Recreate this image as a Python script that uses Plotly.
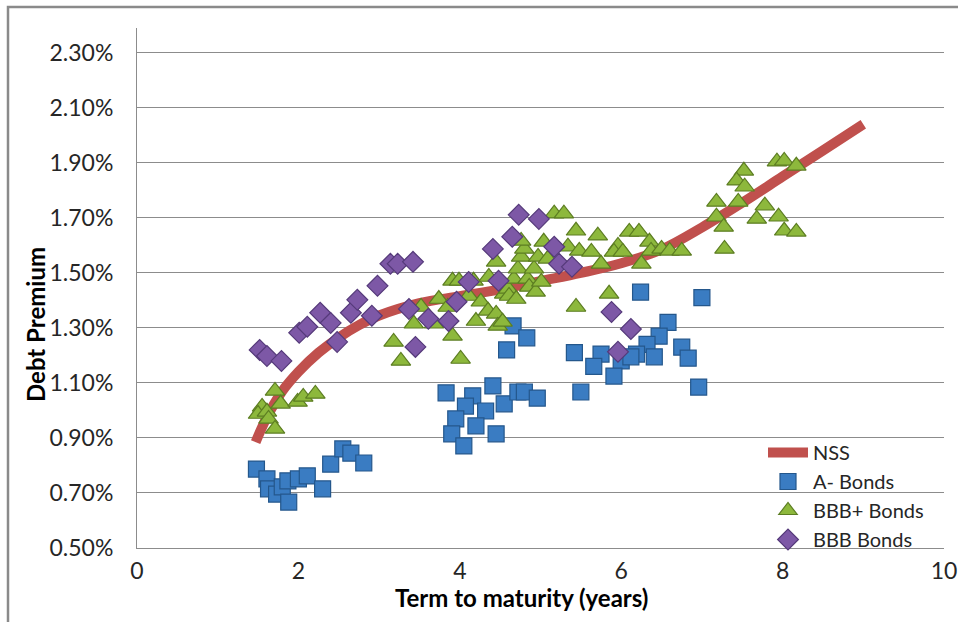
import plotly.graph_objects as go

# ---- data (values in percent) ----
nss_x = [1.47, 1.6, 1.8, 2.0, 2.25, 2.5, 2.75, 3.0, 3.5, 4.0, 4.5, 5.0, 5.5, 6.0, 6.5, 7.0, 7.5, 8.0, 8.5, 9.0]
nss_y = [0.885, 0.97, 1.07, 1.14, 1.21, 1.265, 1.31, 1.345, 1.39, 1.415, 1.44, 1.47, 1.50, 1.535, 1.585, 1.665, 1.755, 1.85, 1.945, 2.04]

a_x = [1.48, 1.61, 1.63, 1.73, 1.80, 1.87, 1.88, 2.00, 2.11, 2.30, 2.40, 2.55, 2.65, 2.81,
       4.66, 4.83, 4.58, 3.83, 4.16, 4.41, 4.07, 4.32, 3.95, 4.55, 4.72, 4.80, 4.96, 3.90, 4.20, 4.45, 4.05,
       6.24, 7.00, 6.58, 6.47, 6.32, 6.75, 6.83, 5.42, 5.75, 5.66, 6.00, 5.91, 6.19, 6.12, 6.41, 5.50, 6.96]
a_y = [0.787, 0.751, 0.715, 0.696, 0.722, 0.744, 0.667, 0.751, 0.762, 0.715, 0.805, 0.860, 0.845, 0.809,
       1.307, 1.264, 1.220, 1.064, 1.053, 1.089, 1.016, 0.998, 0.969, 1.024, 1.067, 1.067, 1.045, 0.915, 0.944, 0.915, 0.871,
       1.430, 1.410, 1.320, 1.270, 1.240, 1.230, 1.190, 1.210, 1.205, 1.160, 1.180, 1.125, 1.205, 1.195, 1.195, 1.067, 1.085]

bp_x = [1.55, 1.50, 1.61, 1.71, 1.78, 1.63, 1.71, 1.99, 2.06, 2.21,
        3.18, 3.27, 3.43, 3.52, 3.68, 3.74, 3.85, 3.91, 4.01, 3.91, 3.99, 4.17, 4.11, 4.20, 4.26, 4.35,
        4.36, 4.45, 4.45, 4.47, 4.53, 4.55, 4.60, 4.61, 4.70, 4.67, 4.72, 4.76, 4.80, 4.76, 4.84, 4.86,
        4.92, 4.94, 4.97, 5.04, 5.01, 5.09, 5.17, 5.29, 5.34, 5.44, 5.44,
        5.71, 5.48, 5.63, 5.75, 5.96, 5.91, 6.02, 6.10, 6.22, 6.35, 6.37, 6.50, 6.60, 6.75, 6.25, 5.85,
        7.18, 7.18, 7.27, 7.45, 7.68, 7.28,
        7.52, 7.43, 7.53, 7.78, 7.95, 8.02, 8.17, 7.93, 8.02, 8.17]
bp_y = [1.013, 0.987, 0.995, 1.071, 1.024, 0.969, 0.933, 1.031, 1.049, 1.060,
        1.249, 1.180, 1.315, 1.376, 1.315, 1.405, 1.376, 1.271, 1.187, 1.471, 1.471, 1.471, 1.416, 1.325, 1.395, 1.362,
        1.485, 1.540, 1.351, 1.307, 1.322, 1.424, 1.442, 1.416, 1.405, 1.478, 1.515, 1.558, 1.587, 1.616, 1.478, 1.449,
        1.515, 1.431, 1.558, 1.613, 1.467, 1.551, 1.715, 1.715, 1.595, 1.653, 1.376,
        1.635, 1.580, 1.576, 1.533, 1.598, 1.576, 1.576, 1.649, 1.649, 1.613, 1.580, 1.587, 1.580, 1.580, 1.533, 1.424,
        1.758, 1.704, 1.667, 1.758, 1.696, 1.587,
        1.871, 1.835, 1.813, 1.744, 1.704, 1.653, 1.649, 1.904, 1.907, 1.889]

bbb_x = [1.52, 1.61, 1.79, 2.01, 2.11, 2.27, 2.40, 2.48, 2.65, 2.73, 2.98, 2.91, 3.14, 3.23, 3.42, 3.37,
         3.45, 3.61, 3.86, 3.96, 4.11, 4.48, 4.41, 4.65, 4.73, 4.98, 5.17, 5.23, 5.39, 5.88, 6.12, 5.96]
bbb_y = [1.220, 1.198, 1.180, 1.282, 1.304, 1.355, 1.318, 1.249, 1.355, 1.402, 1.453, 1.344, 1.533, 1.533, 1.540, 1.369,
         1.231, 1.333, 1.325, 1.395, 1.467, 1.471, 1.587, 1.631, 1.711, 1.696, 1.595, 1.533, 1.522, 1.358, 1.296, 1.213]

y_ticks = [0.50, 0.70, 0.90, 1.10, 1.30, 1.50, 1.70, 1.90, 2.10, 2.30]
y_tick_text = ["0.50%", "0.70%", "0.90%", "1.10%", "1.30%", "1.50%", "1.70%", "1.90%", "2.10%", "2.30%"]
x_ticks = [0, 2, 4, 6, 8, 10]

FONT = "Lato"
GRID = "#8c8c8c"

W, H = 958, 622
ML, MR, MT, MB = 137, 14, 28, 74
PW = W - ML - MR
PH = H - MT - MB


def px_x(px):
    return (px - ML) / PW


def px_y(py):
    return (H - MB - py) / PH


fig = go.Figure()
fig.add_trace(go.Scatter(x=nss_x, y=nss_y, mode="lines", name="NSS",
                         line=dict(color="#c0504d", width=10, shape="spline")))
fig.add_trace(go.Scatter(x=a_x, y=a_y, mode="markers", name="A- Bonds",
                         marker=dict(symbol="square", size=16, color="#3a7cc2",
                                     line=dict(color="#24578c", width=1.2))))
fig.add_trace(go.Scatter(x=bp_x, y=bp_y, mode="markers", name="BBB+ Bonds",
                         marker=dict(symbol="triangle-up", size=17, color="#8db83c",
                                     line=dict(color="#5c7d22", width=1.2))))
fig.add_trace(go.Scatter(x=bbb_x, y=bbb_y, mode="markers", name="BBB Bonds",
                         marker=dict(symbol="diamond", size=16, color="#7d58a6",
                                     line=dict(color="#553a7a", width=1.2))))

fig.update_layout(
    width=W, height=H,
    margin=dict(l=ML, r=MR, t=MT, b=MB, autoexpand=False),
    paper_bgcolor="white", plot_bgcolor="white",
    font=dict(family=FONT, size=23, color="#262626"),
    showlegend=True,
    legend=dict(x=px_x(763), y=px_y(433), xanchor="left", yanchor="top",
                bgcolor="rgba(255,255,255,0)", font=dict(size=20, color="#262626"),
                tracegroupgap=0, itemwidth=40),
    xaxis=dict(range=[0, 10], tickvals=x_ticks, showgrid=False, zeroline=False,
               showline=True, linecolor=GRID, linewidth=1, ticks="outside", automargin=False,
               ticklen=2, tickcolor="rgba(0,0,0,0)", tickfont=dict(size=23)),
    yaxis=dict(range=[0.5, 2.39], tickvals=y_ticks, ticktext=y_tick_text,
               showgrid=True, gridcolor=GRID, gridwidth=1, zeroline=False, automargin=False,
               showline=True, linecolor=GRID, linewidth=1, ticks="outside",
               ticklen=18, tickcolor="rgba(0,0,0,0)", tickfont=dict(size=23)),
    annotations=[
        dict(text="<b>Term to maturity (years)</b>", xref="paper", yref="paper",
             x=px_x(521), y=px_y(597), xanchor="center", yanchor="middle",
             showarrow=False, font=dict(size=24, color="#000000")),
        dict(text="<b>Debt Premium</b>", xref="paper", yref="paper",
             x=px_x(35), y=px_y(325), xanchor="center", yanchor="middle",
             textangle=-90, showarrow=False, font=dict(size=24, color="#000000")),
    ],
    shapes=[dict(type="rect", xref="paper", yref="paper",
                 x0=px_x(8), x1=px_x(990),
                 y0=px_y(660), y1=px_y(7),
                 line=dict(color="#8a8a8a", width=2.5), fillcolor="rgba(0,0,0,0)", layer="below")],
)

fig.write_html("out.html", config={"displayModeBar": False},
               post_script="document.body.style.margin='0';document.body.style.overflow='hidden';")
